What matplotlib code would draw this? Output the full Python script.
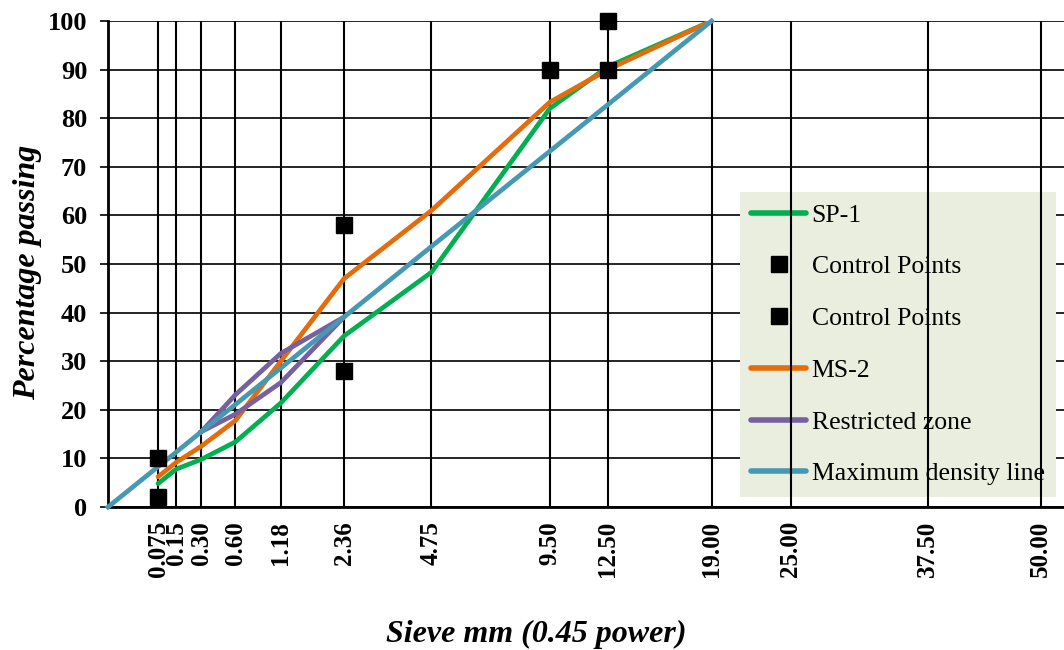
import numpy as np
import matplotlib
matplotlib.use("Agg")
import matplotlib.pyplot as plt
from matplotlib.lines import Line2D

plt.rcParams['font.family'] = ['Liberation Serif', 'DejaVu Serif']

# sieve sizes (mm) shown on the 0.45 power axis
sieve = [0.075, 0.15, 0.30, 0.60, 1.18, 2.36, 4.75, 9.50, 12.50, 19.00, 25.00, 37.50, 50.00]
sieve_labels = ['0.075', '0.15', '0.30', '0.60', '1.18', '2.36', '4.75',
                '9.50', '12.50', '19.00', '25.00', '37.50', '50.00']

# gradations
grad_sizes = [0.075, 0.15, 0.30, 0.60, 1.18, 2.36, 4.75, 9.50, 12.50, 19.00]
sp1 = [4.8, 7.8, 9.8, 13.4, 21.4, 35.2, 48.3, 82.0, 90.6, 100.0]
ms2 = [6.2, 9.2, 12.5, 17.8, 30.0, 47.0, 61.0, 83.3, 90.0, 100.0]

# control points (lower / upper)
cp_low_sizes = [0.075, 2.36, 12.50]
cp_low = [2, 28, 90]
cp_up_sizes = [0.075, 2.36, 9.50, 12.50]
cp_up = [10, 58, 90, 100]

# restricted zone (upper edge then back along the lower edge)
rz_sizes = [0.30, 0.60, 1.18, 2.36, 1.18, 0.60, 0.30]
rz = [15.5, 23.1, 31.6, 39.1, 25.6, 19.1, 15.5]

# maximum density line
md_sizes = [0, 0.075, 0.15, 0.30, 0.60, 1.18, 2.36, 4.75, 9.50, 12.50, 19.00]
md = [0, 8.3, 11.3, 15.5, 21.1, 28.6, 39.1, 53.6, 73.2, 82.8, 100]


def fwd(x):
    x = np.asarray(x, dtype=float)
    return np.sign(x) * np.abs(x) ** 0.45


def inv(x):
    x = np.asarray(x, dtype=float)
    return np.sign(x) * np.abs(x) ** (1 / 0.45)


fig = plt.figure(figsize=(10.64, 6.5), dpi=100)
ax = fig.add_axes([0.1015, 0.22, 0.8985, 0.7477])
ax.set_xscale('function', functions=(fwd, inv))
ax.set_xlim(0, 52.8)
ax.set_ylim(0, 100)

green = '#00B050'
orange = '#E46C0A'
purple = '#7660A0'
teal = '#4599B3'
lw = 3.4

ax.plot(grad_sizes, sp1, color=green, lw=lw, zorder=7, solid_capstyle='round')
ax.plot(cp_low_sizes, cp_low, ls='none', marker='s', ms=11, color='black', zorder=9, clip_on=False)
ax.plot(cp_up_sizes, cp_up, ls='none', marker='s', ms=11, color='black', zorder=9, clip_on=False)
ax.plot(grad_sizes, ms2, color=orange, lw=lw, zorder=7, solid_capstyle='round')
ax.plot(rz_sizes, rz, color=purple, lw=lw, zorder=7)
ax.plot(md_sizes, md, color=teal, lw=lw, zorder=8, clip_on=False)

# vertical lines at each sieve, drawn above the legend box
ax.vlines(sieve, 0, 100, colors='black', lw=1.5, zorder=6)

ax.set_xticks(sieve)
ax.set_xticklabels(sieve_labels, rotation=90, fontsize=18, fontweight='bold')
ax.set_yticks(np.arange(0, 101, 10))
ax.tick_params(axis='y', labelsize=19, length=6, width=1.2, pad=9)
for t in ax.get_yticklabels():
    t.set_fontweight('bold')
ax.tick_params(axis='x', length=0, pad=10)
ax.minorticks_off()

ax.yaxis.grid(True, color='black', lw=1.2)
ax.set_axisbelow(True)
for side in ['top', 'right']:
    ax.spines[side].set_visible(False)
ax.spines['left'].set_linewidth(2)
ax.spines['bottom'].set_linewidth(2)

ax.set_xlabel('Sieve mm (0.45 power)', fontsize=23, fontweight='bold', style='italic')
ax.xaxis.set_label_coords(0.448, -0.232)
ax.set_ylabel('Percentage passing', fontsize=23, fontweight='bold', style='italic')
ax.yaxis.set_label_coords(-0.069, 0.4835)

handles = [
    Line2D([], [], color=green, lw=4, solid_capstyle='round'),
    Line2D([], [], ls='none', marker='s', ms=11, color='black'),
    Line2D([], [], ls='none', marker='s', ms=11, color='black'),
    Line2D([], [], color=orange, lw=4, solid_capstyle='round'),
    Line2D([], [], color=purple, lw=4, solid_capstyle='round'),
    Line2D([], [], color=teal, lw=4, solid_capstyle='round'),
]
labels = ['SP-1', 'Control Points', 'Control Points', 'MS-2', 'Restricted zone', 'Maximum density line']
leg = ax.legend(handles, labels, loc='lower left', bbox_to_anchor=(0.661, 0.0206),
                fontsize=18.5, frameon=True, fancybox=False, facecolor='#EAEEDF',
                edgecolor='none', framealpha=1, handlelength=2.14, handletextpad=0.2,
                labelspacing=1.12, borderpad=0.45, borderaxespad=0)
leg.set_zorder(5)

fig.savefig('out.png', dpi=100)
